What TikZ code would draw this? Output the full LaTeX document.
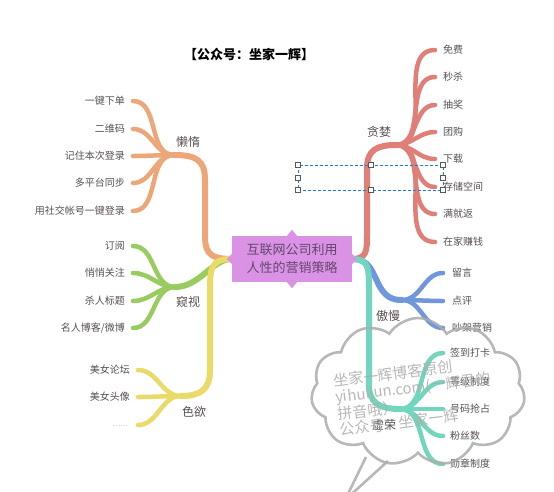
\documentclass[tikz,border=0pt]{standalone}
\usepackage{fontspec}
\setmainfont{Noto Sans CJK SC}
\usetikzlibrary{shapes.symbols}
\definecolor{cOr}{RGB}{236,166,120}
\definecolor{cGr}{RGB}{152,204,94}
\definecolor{cYe}{RGB}{234,218,104}
\definecolor{cRe}{RGB}{224,126,120}
\definecolor{cBl}{RGB}{112,150,220}
\definecolor{cTe}{RGB}{114,214,190}
\definecolor{cPu}{RGB}{218,146,228}
\definecolor{cPuT}{RGB}{100,72,110}
\definecolor{cTxt}{RGB}{88,80,80}
\definecolor{cSel}{RGB}{30,124,216}
\definecolor{cWm}{RGB}{172,172,172}
\begin{document}
\begin{tikzpicture}[x=1pt,y=-1pt,
  br/.style={line width=4.5pt, line cap=round},
  trunk/.style={line width=6pt, line cap=round},
  leafL/.style={font=\fontsize{10}{12}\selectfont, text=cTxt, anchor=east, inner sep=0pt},
  leafR/.style={font=\fontsize{10}{12}\selectfont, text=cTxt, anchor=west, inner sep=0pt},
  blab/.style={font=\fontsize{12}{14}\selectfont, text=cTxt, inner sep=0pt},
  handle/.style={fill=white, draw=black!65, line width=0.6pt}]
\useasboundingbox (0,0) rectangle (554,491);
\clip (0,0) rectangle (554,491);
\fill[white] (0,0) rectangle (554,491);

% title
\node[font=\fontsize{13}{15}\selectfont\bfseries, text=black] (title) at (249,55) {【公众号：坐家一辉】};

% central node (position only, drawn later on top)
\path (292,259) node[minimum width=120pt, minimum height=46pt, inner sep=0pt] (cpos) {};

% ---------- orange: 懒惰 ----------
\coordinate (jO) at (174,155);
\draw[trunk,cOr] (cpos.west) .. controls (206,259) and (205,250) .. (205,232) -- (205,180) .. controls (205,160) and (196,155) .. (jO);
\coordinate (o1) at (133,101);
\coordinate (o2) at (133,129);
\coordinate (o3) at (133,156);
\coordinate (o4) at (133,183);
\coordinate (o5) at (133,211);
\foreach \k in {1,...,5} \draw[br,cOr] (jO) to[out=180,in=0] (o\k);
\node[blab] (lO) at (188,142) {懒惰};
\node[leafL] (to1) at (125,101) {一键下单};
\node[leafL] (to2) at (125,129) {二维码};
\node[leafL] (to3) at (125,156) {记住本次登录};
\node[leafL] (to4) at (125,183) {多平台同步};
\node[leafL] (to5) at (125,211) {用社交帐号一键登录};

% ---------- green: 窥视 ----------
\coordinate (jG) at (175,287);
\draw[trunk,cGr] (cpos.west) .. controls (212,259) and (200,287) .. (jG);
\coordinate (g1) at (133,246);
\coordinate (g2) at (133,273);
\coordinate (g3) at (133,301);
\coordinate (g4) at (133,328);
\foreach \k in {1,...,4} \draw[br,cGr] (jG) to[out=180,in=0] (g\k);
\node[blab] (lG) at (188,302) {窥视};
\node[leafL] (tg1) at (125,246) {订阅};
\node[leafL] (tg2) at (125,273) {悄悄关注};
\node[leafL] (tg3) at (125,301) {杀人标题};
\node[leafL] (tg4) at (125,328) {名人博客/微博};

% ---------- yellow: 色欲 ----------
\coordinate (jY) at (181,396);
\draw[trunk,cYe] (cpos.west) .. controls (211,259) and (210,268) .. (210,290) -- (210,370) .. controls (210,390) and (200,396) .. (jY);
\coordinate (y1) at (138,370);
\coordinate (y2) at (138,397);
\coordinate (y3) at (138,425);
\foreach \k in {1,...,3} \draw[br,cYe] (jY) to[out=180,in=0] (y\k);
\node[blab] (lY) at (194,412) {色欲};
\node[leafL] (ty1) at (130,370) {美女论坛};
\node[leafL] (ty2) at (130,397) {美女头像};
\node[leafL, text=black!35, font=\fontsize{7}{8}\selectfont] (ty3) at (128,426) {……};

% ---------- red: 贪婪 ----------
\coordinate (jR) at (396,145);
\draw[trunk,cRe] (cpos.east) .. controls (367,259) and (367,250) .. (367,235) -- (367,168) .. controls (367,150) and (377,145) .. (jR);
\coordinate (r1) at (435,50);
\coordinate (r2) at (435,77);
\coordinate (r3) at (435,105);
\coordinate (r4) at (435,132);
\coordinate (r5) at (435,159);
\coordinate (r6) at (435,187);
\coordinate (r7) at (435,214);
\coordinate (r8) at (435,242);
\foreach \k in {1,...,8} \draw[br,cRe] (jR) to[out=0,in=180] (r\k);
\node[blab] (lR) at (379,132) {贪婪};
\node[leafR] (tr1) at (443,50) {免费};
\node[leafR] (tr2) at (443,77) {秒杀};
\node[leafR] (tr3) at (443,105) {抽奖};
\node[leafR] (tr4) at (443,132) {团购};
\node[leafR] (tr5) at (443,159) {下载};
\node[leafR] (tr6) at (443,187) {存储空间};
\node[leafR] (tr7) at (443,214) {满就返};
\node[leafR] (tr8) at (443,242) {在家赚钱};

% ---------- blue: 傲慢 ----------
\coordinate (jB) at (402,300);
\draw[trunk,cBl] (cpos.east) .. controls (370,259) and (372,272) .. (380,287) .. controls (386,297) and (392,300) .. (jB);
\coordinate (b1) at (443,273);
\coordinate (b2) at (443,301);
\coordinate (b3) at (443,328);
\foreach \k in {1,...,3} \draw[br,cBl] (jB) to[out=0,in=180] (b\k);
\node[blab] (lB) at (388,316) {傲慢};
\node[leafR] (tb1) at (452,273) {留言};
\node[leafR] (tb2) at (452,301) {点评};
\node[leafR] (tb3) at (452,328) {吵架营销};

% ---------- teal: 虚荣 ----------
\coordinate (jT) at (400,409);
\draw[trunk,cTe] (cpos.east) .. controls (369,259) and (369,268) .. (369,290) -- (369,385) .. controls (369,403) and (380,409) .. (jT);
\coordinate (t1) at (443,353);
\coordinate (t2) at (443,382);
\coordinate (t3) at (443,409);
\coordinate (t4) at (443,436);
\coordinate (t5) at (443,464);
\foreach \k in {1,...,5} \draw[br,cTe] (jT) to[out=0,in=180] (t\k);
\node[blab] (lT) at (384,425) {虚荣};
\node[leafR] (tt1) at (450,353) {签到打卡};
\node[leafR] (tt2) at (450,382) {等级制度};
\node[leafR] (tt3) at (450,409) {号码抢占};
\node[leafR] (tt4) at (450,436) {粉丝数};
\node[leafR] (tt5) at (450,464) {勋章制度};

% ---------- central node ----------
\node[fill=cPu, minimum width=120pt, minimum height=46pt, inner sep=0pt, align=center, text=cPuT,
      font=\fontsize{13}{18}\selectfont] (c) at (292,259) {互联网公司利用\\人性的营销策略};
\fill[cPu] (c.north) ++(-5,0) -- ++(5,-6) -- ++(5,6) -- cycle;
\fill[cPu] (c.south) ++(-5,0) -- ++(5,6) -- ++(5,-6) -- cycle;
\fill[cPu] (c.west) ++(0,-5) -- ++(-5,5) -- ++(5,5) -- cycle;
\fill[cPu] (c.east) ++(0,-5) -- ++(5,5) -- ++(-5,5) -- cycle;

% ---------- selection box ----------
\draw[cSel, line width=0.9pt, dash pattern=on 3pt off 2pt] (298,165) rectangle (443,190);
\foreach \px/\py in {298/165,371/165,443/165,298/178,443/178,298/190,371/190,443/190}
  \draw[handle] (\px-2.5,\py-2.5) rectangle (\px+2.5,\py+2.5);

% ---------- watermark cloud ----------
\node[cloud, cloud puffs=11, cloud puff arc=115, aspect=1.45, draw=cWm, draw opacity=0.85, line width=2.6pt,
      minimum width=214pt, minimum height=148pt] (cl) at (418,392) {};
\draw[cWm, draw opacity=0.85, line width=2.6pt, line join=round] (366,457) -- (345,500) -- (388,461);
\node[text=cWm, text opacity=0.85, rotate=7, align=left, inner sep=0pt,
      font=\fontsize{15}{16}\selectfont] (wm) at (414,396)
  {坐家一辉博客原创\\yihuijun.com(一辉君的\\拼音哦）\\公众号：坐家一辉};
\end{tikzpicture}
\end{document}
